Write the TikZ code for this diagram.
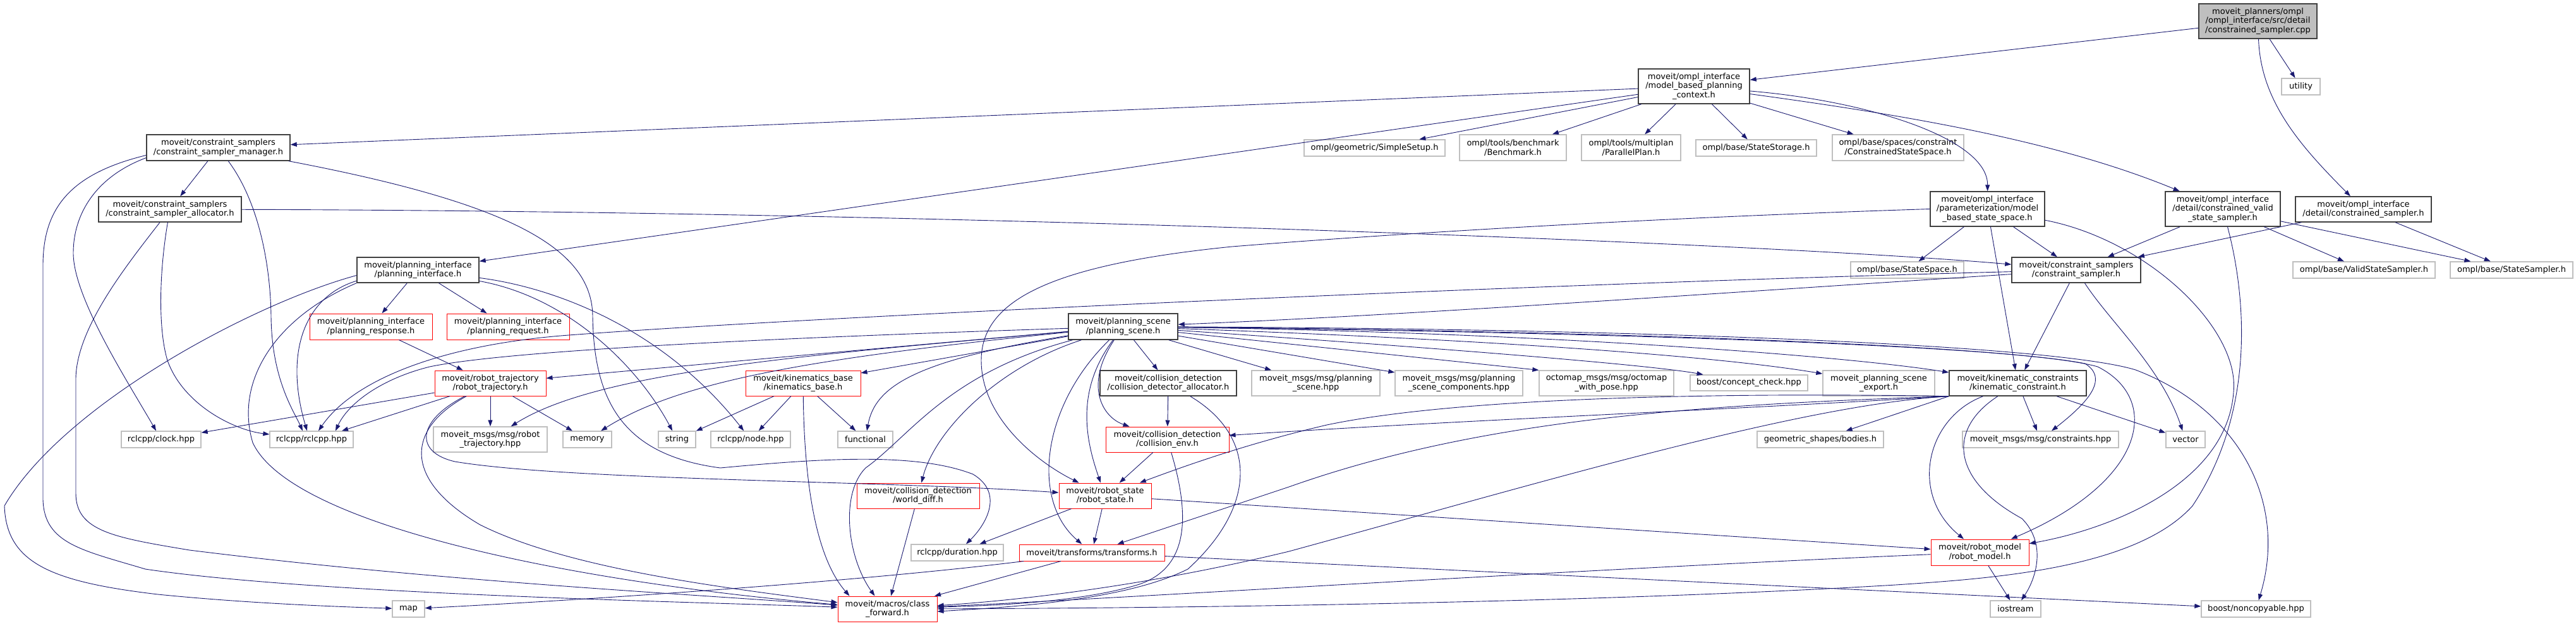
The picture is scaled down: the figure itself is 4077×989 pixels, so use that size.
\documentclass[tikz,border=0pt]{standalone}
\usepackage{fontspec}
\setmainfont{DejaVu Sans}
\usepackage{tikz}
\usetikzlibrary{arrows.meta, positioning}
\definecolor{edgeblue}{HTML}{191970}
\definecolor{boxdark}{HTML}{404040}
\definecolor{boxgray}{HTML}{BFBFBF}
\definecolor{boxred}{HTML}{FF0000}
\newcommand{\graphfont}{\fontsize{13pt}{14.5pt}\selectfont}

\begin{document}
\begin{tikzpicture}[
  x=1pt, y=-1pt,
  every node/.style={font=\graphfont, align=center, inner sep=0pt},
  docbox/.style={draw=boxdark, line width=1.4pt, fill=white},
  extbox/.style={draw=boxgray, line width=1.3pt, fill=white},
  redbox/.style={draw=boxred, line width=1pt, fill=white},
  mainbox/.style={draw=boxdark, line width=1.4pt, fill=boxgray},
  dep/.style={draw=edgeblue, line width=0.9pt, -{Triangle[length=10pt,width=7pt]}}
]
\useasboundingbox (0,0) rectangle (4077,989);

% top rows
\node[mainbox, minimum width=187pt, minimum height=55pt] (main) at (3573.5,33.5) {moveit\_planners/ompl\\/ompl\_interface/src/detail\\/constrained\_sampler.cpp};
\node[docbox, minimum width=176pt, minimum height=55pt] (mbpc) at (2681,136.5) {moveit/ompl\_interface\\/model\_based\_planning\\\_context.h};
\node[extbox, minimum width=61pt, minimum height=26pt] (util) at (3641.5,137) {utility};
\node[docbox, minimum width=227pt, minimum height=41pt] (mgr) at (345.5,233.5) {moveit/constraint\_samplers\\/constraint\_sampler\_manager.h};
\node[extbox, minimum width=223pt, minimum height=26pt] (simple) at (2175.5,234) {ompl/geometric/SimpleSetup.h};
\node[extbox, minimum width=169pt, minimum height=41pt] (bench) at (2394.5,233.5) {ompl/tools/benchmark\\/Benchmark.h};
\node[extbox, minimum width=157pt, minimum height=41pt] (parplan) at (2581.5,233.5) {ompl/tools/multiplan\\/ParallelPlan.h};
\node[extbox, minimum width=191pt, minimum height=26pt] (store) at (2779.5,234) {ompl/base/StateStorage.h};
\node[extbox, minimum width=208pt, minimum height=41pt] (cspace) at (3004,233.5) {ompl/base/spaces/constraint\\/ConstrainedStateSpace.h};
\node[docbox, minimum width=226pt, minimum height=40pt] (alloc) at (269,331) {moveit/constraint\_samplers\\/constraint\_sampler\_allocator.h};
\node[docbox, minimum width=181pt, minimum height=55pt] (mbss) at (3145.5,330.5) {moveit/ompl\_interface\\/parameterization/model\\\_based\_state\_space.h};
\node[docbox, minimum width=182pt, minimum height=55pt] (cvss) at (3518,330.5) {moveit/ompl\_interface\\/detail/constrained\_valid\\\_state\_sampler.h};
\node[docbox, minimum width=215pt, minimum height=40pt] (csh) at (3740.5,331) {moveit/ompl\_interface\\/detail/constrained\_sampler.h};
\node[docbox, minimum width=193pt, minimum height=40pt] (pif) at (661.5,427) {moveit/planning\_interface\\/planning\_interface.h};
\node[extbox, minimum width=179pt, minimum height=26pt] (sspace) at (3018.5,427) {ompl/base/StateSpace.h};
\node[docbox, minimum width=204pt, minimum height=40pt] (csamp) at (3286,427) {moveit/constraint\_samplers\\/constraint\_sampler.h};
\node[extbox, minimum width=225pt, minimum height=26pt] (vsamp) at (3741.5,427) {ompl/base/ValidStateSampler.h};
\node[extbox, minimum width=194pt, minimum height=26pt] (ssamp) at (3975,427) {ompl/base/StateSampler.h};

% middle rows
\node[redbox, minimum width=194pt, minimum height=41pt] (presp) at (587,516.5) {moveit/planning\_interface\\/planning\_response.h};
\node[redbox, minimum width=194pt, minimum height=41pt] (preq) at (804,516.5) {moveit/planning\_interface\\/planning\_request.h};
\node[docbox, minimum width=173pt, minimum height=41pt] (pscene) at (1777.5,516.5) {moveit/planning\_scene\\/planning\_scene.h};
\node[redbox, minimum width=176pt, minimum height=40pt] (rtraj) at (776,606) {moveit/robot\_trajectory\\/robot\_trajectory.h};
\node[redbox, minimum width=182pt, minimum height=40pt] (kbase) at (1271,606) {moveit/kinematics\_base\\/kinematics\_base.h};
\node[docbox, minimum width=216pt, minimum height=40pt] (cdalloc) at (1849,606) {moveit/collision\_detection\\/collision\_detector\_allocator.h};
\node[extbox, minimum width=203pt, minimum height=40pt] (mps) at (2082.5,606) {moveit\_msgs/msg/planning\\\_scene.hpp};
\node[extbox, minimum width=202pt, minimum height=40pt] (mpsc) at (2309,606) {moveit\_msgs/msg/planning\\\_scene\_components.hpp};
\node[extbox, minimum width=213pt, minimum height=40pt] (octo) at (2542.5,606) {octomap\_msgs/msg/octomap\\\_with\_pose.hpp};
\node[extbox, minimum width=186pt, minimum height=25pt] (concept) at (2768,605.5) {boost/concept\_check.hpp};
\node[extbox, minimum width=177pt, minimum height=40pt] (psexp) at (2973.5,606) {moveit\_planning\_scene\\\_export.h};
\node[docbox, minimum width=217pt, minimum height=40pt] (kcons) at (3193.5,606) {moveit/kinematic\_constraints\\/kinematic\_constraint.h};
\node[extbox, minimum width=126pt, minimum height=26pt] (clock) at (255,695) {rclcpp/clock.hpp};
\node[extbox, minimum width=132pt, minimum height=26pt] (rclcpp) at (493,695) {rclcpp/rclcpp.hpp};
\node[extbox, minimum width=180pt, minimum height=40pt] (mrt) at (776,695) {moveit\_msgs/msg/robot\\\_trajectory.hpp};
\node[extbox, minimum width=77pt, minimum height=26pt] (memory) at (929.5,695) {memory};
\node[extbox, minimum width=59pt, minimum height=26pt] (string) at (1071.5,695) {string};
\node[extbox, minimum width=126pt, minimum height=26pt] (nodehpp) at (1188,695) {rclcpp/node.hpp};
\node[extbox, minimum width=87pt, minimum height=26pt] (functional) at (1369.5,695) {functional};
\node[redbox, minimum width=195pt, minimum height=40pt] (cenv) at (1847.5,695) {moveit/collision\_detection\\/collision\_env.h};
\node[extbox, minimum width=200pt, minimum height=26pt] (bodies) at (2881,695) {geometric\_shapes/bodies.h};
\node[extbox, minimum width=247pt, minimum height=26pt] (mcons) at (3229.5,695) {moveit\_msgs/msg/constraints.hpp};
\node[extbox, minimum width=62pt, minimum height=26pt] (vector) at (3459,695) {vector};

% bottom rows
\node[redbox, minimum width=194pt, minimum height=40pt] (wdiff) at (1453,784) {moveit/collision\_detection\\/world\_diff.h};
\node[redbox, minimum width=146pt, minimum height=40pt] (rstate) at (1749,784) {moveit/robot\_state\\/robot\_state.h};
\node[extbox, minimum width=146pt, minimum height=26pt] (duration) at (1515,874) {rclcpp/duration.hpp};
\node[redbox, minimum width=230pt, minimum height=26pt] (transf) at (1728,874) {moveit/transforms/transforms.h};
\node[redbox, minimum width=155pt, minimum height=41pt] (rmodel) at (3133.5,873.5) {moveit/robot\_model\\/robot\_model.h};
\node[redbox, minimum width=157pt, minimum height=40pt] (cfwd) at (1404.5,963) {moveit/macros/class\\\_forward.h};
\node[extbox, minimum width=51pt, minimum height=26pt] (map) at (646.5,963) {map};
\node[extbox, minimum width=80pt, minimum height=26pt] (iostream) at (3190,963) {iostream};
\node[extbox, minimum width=173pt, minimum height=26pt] (noncopy) at (3570.5,963) {boost/noncopyable.hpp};

% source file
\draw[dep] (main) -- (mbpc);
\draw[dep] (main) -- (util);
\draw[dep] (main) .. controls (3578,160) and (3640,230) .. (csh);

% model_based_planning_context.h
\draw[dep] (mbpc) -- (mgr);
\draw[dep] (mbpc) -- (pif);
\draw[dep] (mbpc) -- (simple);
\draw[dep] (mbpc) -- (bench);
\draw[dep] (mbpc) -- (parplan);
\draw[dep] (mbpc) -- (store);
\draw[dep] (mbpc) -- (cspace);
\draw[dep] (mbpc) .. controls (2960,160) and (3146,220) .. (mbss);
\draw[dep] (mbpc) .. controls (3000,180) and (3250,220) .. (cvss);

% detail/constrained_sampler.h
\draw[dep] (csh) -- (csamp);
\draw[dep] (csh) -- (ssamp);

% constrained_valid_state_sampler.h
\draw[dep] (cvss) -- (csamp);
\draw[dep] (cvss) -- (vsamp);
\draw[dep] (cvss) -- (ssamp);
\draw[dep] (cvss) .. controls (3555,470) and (3570,650) .. (3470,800) .. controls (3380,900) and (3150,915) .. (3000,925) .. controls (2500,955) and (1800,962) .. (cfwd);

% model_based_state_space.h
\draw[dep] (mbss) -- (sspace);
\draw[dep] (mbss) -- (csamp);
\draw[dep] (mbss) -- (kcons);
\draw[dep] (mbss) .. controls (3400,380) and (3545,520) .. (3535,620) .. controls (3525,760) and (3350,835) .. (rmodel);
\draw[dep] (mbss.west) .. controls (2600,345) and (2200,370) .. (1950,390) .. controls (1650,420) and (1553,480) .. (1553,570) .. controls (1553,660) and (1640,730) .. (rstate);

% constraint_sampler_manager.h
\draw[dep] (mgr) -- (alloc);
\draw[dep] (mgr.188) .. controls (150,280) and (116,340) .. (116,400) .. controls (116,470) and (200,600) .. (clock);
\draw[dep] (mgr.186) .. controls (110,275) and (68,330) .. (68,420) -- (68,790) .. controls (70,860) and (130,870) .. (230,900) .. controls (500,940) and (1100,952) .. (cfwd);
\draw[dep] (mgr) .. controls (410,320) and (428,420) .. (429,500) .. controls (430,600) and (465,650) .. ([xshift=-14pt]rclcpp.north);
\draw[dep] (mgr) .. controls (800,320) and (937,390) .. (938,500) .. controls (940,640) and (990,720) .. (1140,740) .. controls (1300,725) and (1450,715) .. (1540,750) .. controls (1590,780) and (1560,830) .. (duration);

% constraint_sampler_allocator.h
\draw[dep] (alloc) .. controls (1500,334) and (2800,385) .. (csamp);
\draw[dep] (alloc) .. controls (200,420) and (120,520) .. (120,600) -- (120,780) .. controls (120,840) and (180,850) .. (300,870) .. controls (700,920) and (1100,940) .. (cfwd);
\draw[dep] (alloc) .. controls (252,430) and (250,520) .. (265,570) .. controls (290,640) and (370,680) .. (rclcpp);

% planning_interface.h
\draw[dep] (pif) -- (presp);
\draw[dep] (pif) -- (preq);
\draw[dep] (pif.185) .. controls (400,480) and (100,640) .. (7,800) .. controls (10,890) and (80,920) .. (250,940) .. controls (400,955) and (550,960) .. (map);
\draw[dep] (pif.190) .. controls (480,470) and (450,560) .. ([xshift=-7pt]rclcpp.north);
\draw[dep] (pif.192) .. controls (440,500) and (370,600) .. (400,700) .. controls (460,830) and (900,920) .. (cfwd);
\draw[dep] (pif) .. controls (900,470) and (1010,580) .. (string);
\draw[dep] (pif) .. controls (880,455) and (1050,520) .. (nodehpp);

% planning_response.h
\draw[dep] (presp) -- (rtraj);

% robot_trajectory.h
\draw[dep] (rtraj) -- (clock);
\draw[dep] (rtraj) -- ([xshift=48pt]rclcpp.north);
\draw[dep] (rtraj) -- (mrt);
\draw[dep] (rtraj) -- (memory);
\draw[dep] (rtraj) .. controls (660,665) and (655,715) .. (720,730) .. controls (900,760) and (1400,760) .. (rstate);
\draw[dep] (rtraj) .. controls (640,680) and (640,760) .. (760,830) .. controls (900,900) and (1150,930) .. (cfwd);

% planning_scene.h
\draw[dep] (pscene) .. controls (1200,535) and (800,555) .. (680,580) .. controls (600,600) and (550,640) .. ([xshift=38pt]rclcpp.north);
\draw[dep] (pscene) -- (rtraj);
\draw[dep] (pscene) .. controls (1300,560) and (950,585) .. (mrt);
\draw[dep] (pscene) .. controls (1300,565) and (1080,600) .. (memory);
\draw[dep] (pscene) -- (kbase);
\draw[dep] (pscene) .. controls (1450,570) and (1385,610) .. (functional);
\draw[dep] (pscene) .. controls (1580,580) and (1480,680) .. (wdiff);
\draw[dep] (pscene) .. controls (1500,590) and (1440,690) .. (1370,740) .. controls (1330,780) and (1340,880) .. ([xshift=-20pt]cfwd.north);
\draw[dep] (pscene) -- (cdalloc);
\draw[dep] (pscene) .. controls (1715,610) and (1745,660) .. (cenv);
\draw[dep] (pscene) .. controls (1700,620) and (1720,700) .. (rstate);
\draw[dep] (pscene) .. controls (1650,640) and (1630,790) .. (transf);
\draw[dep] (pscene) -- (mps);
\draw[dep] (pscene) -- (mpsc);
\draw[dep] (pscene) -- (octo.north west);
\draw[dep] (pscene) .. controls (2200,545) and (2600,575) .. (concept);
\draw[dep] (pscene) .. controls (2300,535) and (2700,560) .. (psexp);
\draw[dep] (pscene) .. controls (2400,525) and (2900,560) .. (kcons);
\draw[dep] (pscene) .. controls (2500,525) and (3150,545) .. (3300,575) .. controls (3340,600) and (3300,640) .. (mcons);
\draw[dep] (pscene) .. controls (2500,523) and (3200,545) .. (3320,580) .. controls (3420,630) and (3400,760) .. (rmodel);
\draw[dep] (pscene) .. controls (2600,520) and (3250,545) .. (3380,585) .. controls (3550,650) and (3620,800) .. (noncopy);

% kinematics_base.h
\draw[dep] (kbase) -- (string);
\draw[dep] (kbase) -- (nodehpp);
\draw[dep] (kbase) -- (functional);
\draw[dep] (kbase) .. controls (1273,760) and (1290,880) .. ([xshift=-60pt]cfwd.north);

% collision detection
\draw[dep] (cdalloc) -- (cenv);
\draw[dep] (cdalloc) .. controls (1990,690) and (1990,800) .. (1880,900) .. controls (1780,950) and (1600,960) .. ([yshift=-4pt]cfwd.east);
\draw[dep] (cenv) -- (rstate);
\draw[dep] (cenv) .. controls (1885,820) and (1880,900) .. (1800,925) .. controls (1700,955) and (1550,958) .. (cfwd);
\draw[dep] (wdiff) -- (cfwd);

% robot_state.h
\draw[dep] (rstate) -- (duration);
\draw[dep] (rstate) -- (transf);
\draw[dep] (rstate) -- (rmodel);

% transforms.h
\draw[dep] (transf) -- (cfwd);
\draw[dep] (transf) .. controls (1400,915) and (1000,945) .. (map);
\draw[dep] (transf) -- (noncopy);

% kinematic_constraint.h
\draw[dep] (kcons) -- (mcons);
\draw[dep] (kcons) -- (vector);
\draw[dep] (kcons.south west) -- (bodies);
\draw[dep] (kcons.south west) .. controls (2700,650) and (2300,665) .. (cenv);
\draw[dep] (kcons.south west) .. controls (2700,620) and (2300,630) .. (2100,672) .. controls (1980,700) and (1880,735) .. (rstate);
\draw[dep] (kcons.south west) .. controls (2700,640) and (2350,660) .. (2040,770) -- (transf);
\draw[dep] (kcons.south west) .. controls (2850,640) and (2450,760) .. (2040,872) .. controls (1800,930) and (1600,950) .. (cfwd);
\draw[dep] (kcons) .. controls (3050,660) and (3020,780) .. (rmodel);
\draw[dep] (kcons) .. controls (3080,680) and (3090,760) .. (3200,820) .. controls (3240,860) and (3222,915) .. (iostream);

% robot_model.h
\draw[dep] (rmodel) -- (iostream);
\draw[dep] (rmodel) .. controls (2500,900) and (1800,945) .. (cfwd);

% constraint_sampler.h
\draw[dep] (csamp) .. controls (2700,465) and (2200,500) .. (pscene);
\draw[dep] (csamp) .. controls (2400,450) and (1300,500) .. (900,530) .. controls (700,545) and (560,600) .. ([xshift=11pt]rclcpp.north);
\draw[dep] (csamp) -- (kcons);
\draw[dep] (csamp) .. controls (3340,510) and (3420,580) .. (vector);

\end{tikzpicture}
\end{document}
